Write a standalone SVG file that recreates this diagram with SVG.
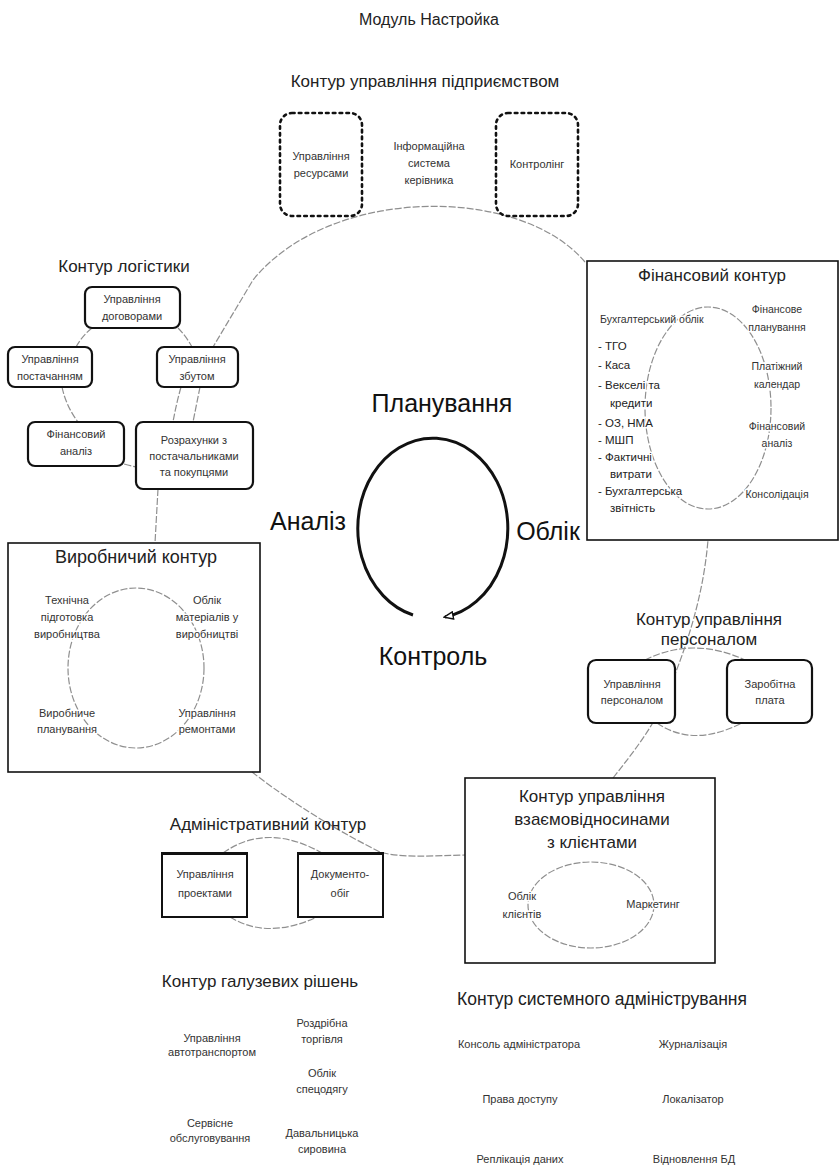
<svg xmlns="http://www.w3.org/2000/svg" width="840" height="1170" viewBox="0 0 840 1170">
  <defs>
    <style>
      text { font-family: "Liberation Sans", Arial, sans-serif; fill: #222; text-anchor: middle; }
      .title { font-size: 16px; }
      .hdr { font-size: 17px; }
      .big { font-size: 25px; fill: #111; }
      .sm { font-size: 11px; fill: #333; }
      .xs { font-size: 10.5px; fill: #333; }
      .lst { font-size: 11.5px; fill: #222; text-anchor: start; }
      .ko { paint-order: stroke; stroke: #fff; stroke-width: 3px; stroke-linejoin: round; }
      .ring { fill: none; stroke: #8f8f8f; stroke-width: 1.2; stroke-dasharray: 7 2; }
      .frame { fill: none; stroke: #111; stroke-width: 1.6; }
      .rbox { fill: #fff; stroke: #111; stroke-width: 2.2; }
      .sbox { fill: #fff; stroke: #111; stroke-width: 2; }
      .dots { fill: #fff; stroke: #111; stroke-width: 2.6; stroke-dasharray: 2.6 4.2; stroke-linecap: round; }
    </style>
    <marker id="openHead" viewBox="0 0 12 10" refX="10" refY="5" markerWidth="11" markerHeight="9" markerUnits="userSpaceOnUse" orient="auto">
      <path d="M1,1 L11,5 L1,9 Z" fill="#fff" stroke="#111" stroke-width="1.6"/>
    </marker>
  </defs>

  <rect width="840" height="1170" fill="#fff"/>

  <!-- connectors: the large ring linking the contours and the small rings inside them -->
  <g id="connectors">
    <path class="ring" d="M585 262 C520 185 330 185 253 280 L213 347"/>
    <path class="ring" d="M200 387 L193 422"/>
    <path class="ring" d="M158 489 L155 543"/>
    <path class="ring" d="M252 772 C275 790 320 822 380 852 C400 858 430 856 465 855"/>
    <path class="ring" d="M613 778 C635 750 655 725 668 692 C685 650 703 600 708 540"/>
    <!-- logistics ring -->
    <path class="ring" d="M92 328 Q82 336 76 347"/>
    <path class="ring" d="M178 328 Q186 336 192 347"/>
    <path class="ring" d="M62 387 Q66 406 78 422"/>
    <path class="ring" d="M181 387 Q176 405 173 422"/>
    <path class="ring" d="M124 464 Q131 466 136 467"/>
    <!-- finance ring -->
    <ellipse class="ring" cx="708" cy="408" rx="63" ry="101"/>
    <!-- production ring -->
    <ellipse class="ring" cx="136" cy="668" rx="68" ry="80"/>
    <!-- personnel ring -->
    <path class="ring" d="M645 660 Q693 636 745 660"/>
    <path class="ring" d="M657 723 Q693 748 742 723"/>
    <!-- administrative ring -->
    <path class="ring" d="M223 853 Q267 822 322 853"/>
    <path class="ring" d="M230 917 Q267 940 317 917"/>
    <!-- customer relations ring -->
    <ellipse class="ring" cx="591" cy="905" rx="63" ry="43"/>
  </g>

  <g id="module-title">
    <text class="title" x="429" y="25">Модуль Настройка</text>
  </g>

  <!-- enterprise management contour -->
  <g id="enterprise">
    <text class="hdr" x="425" y="87">Контур управління підприємством</text>
    <rect class="dots" x="280" y="113" width="82" height="103" rx="12"/>
    <text class="sm" x="321" y="160">Управління</text>
    <text class="sm" x="321" y="177">ресурсами</text>
    <text class="sm" x="429" y="150">Інформаційна</text>
    <text class="sm" x="429" y="167">система</text>
    <text class="sm" x="429" y="184">керівника</text>
    <rect class="dots" x="496" y="113" width="82" height="103" rx="12"/>
    <text class="sm" x="537" y="168">Контролінг</text>
  </g>

  <!-- logistics contour -->
  <g id="logistics">
    <text class="hdr" x="124" y="272">Контур логістики</text>
    <rect class="rbox" x="85" y="287" width="95" height="41" rx="7"/>
    <text class="sm" x="132" y="303">Управління</text>
    <text class="sm" x="132" y="320">договорами</text>
    <rect class="rbox" x="8" y="347" width="84" height="40" rx="7"/>
    <text class="sm" x="50" y="363">Управління</text>
    <text class="sm" x="50" y="380">постачанням</text>
    <rect class="rbox" x="157" y="347" width="81" height="40" rx="7"/>
    <text class="sm" x="197" y="363">Управління</text>
    <text class="sm" x="197" y="380">збутом</text>
    <rect class="rbox" x="28" y="422" width="96" height="44" rx="7"/>
    <text class="sm" x="76" y="438">Фінансовий</text>
    <text class="sm" x="76" y="455">аналіз</text>
    <rect class="rbox" x="136" y="422" width="117" height="67" rx="7"/>
    <text class="sm" x="194" y="444">Розрахунки з</text>
    <text class="sm" x="194" y="460">постачальниками</text>
    <text class="sm" x="194" y="476">та покупцями</text>
  </g>

  <!-- finance contour -->
  <g id="finance">
    <rect class="frame" x="587" y="261" width="251" height="279"/>
    <text class="hdr" x="712" y="281">Фінансовий контур</text>
    <text class="xs ko" x="600" y="323" style="text-anchor:start">Бухгалтерський облік</text>
    <text class="lst ko" x="598" y="350">- ТГО</text>
    <text class="lst ko" x="598" y="369">- Каса</text>
    <text class="lst ko" x="598" y="389">- Векселі та</text>
    <text class="lst ko" x="610" y="407">кредити</text>
    <text class="lst ko" x="598" y="427">- ОЗ, НМА</text>
    <text class="lst ko" x="598" y="444">- МШП</text>
    <text class="lst ko" x="598" y="461">- Фактичні</text>
    <text class="lst ko" x="610" y="478">витрати</text>
    <text class="lst ko" x="598" y="495">- Бухгалтерська</text>
    <text class="lst ko" x="610" y="512">звітність</text>
    <text class="xs ko" x="777" y="313">Фінансове</text>
    <text class="xs ko" x="777" y="331">планування</text>
    <text class="xs ko" x="777" y="370">Платіжний</text>
    <text class="xs ko" x="777" y="388">календар</text>
    <text class="xs ko" x="777" y="430">Фінансовий</text>
    <text class="xs ko" x="777" y="447">аналіз</text>
    <text class="xs ko" x="777" y="498">Консолідація</text>
  </g>

  <!-- central management cycle -->
  <g id="cycle">
    <text class="big" x="442" y="412">Планування</text>
    <path d="M413 615 A75 90 0 1 1 445 617" fill="none" stroke="#111" stroke-width="3" marker-end="url(#openHead)"/>
    <text class="big" x="308" y="530">Аналіз</text>
    <text class="big" x="548" y="540">Облік</text>
    <text class="big" x="433" y="665">Контроль</text>
  </g>

  <!-- production contour -->
  <g id="production">
    <rect class="frame" x="8" y="543" width="252" height="229"/>
    <text class="hdr" x="136" y="563" style="font-size:18px">Виробничий контур</text>
    <text class="sm ko" x="67" y="604">Технічна</text>
    <text class="sm ko" x="67" y="621">підготовка</text>
    <text class="sm ko" x="67" y="638">виробництва</text>
    <text class="sm ko" x="207" y="604">Облік</text>
    <text class="sm ko" x="207" y="621">матеріалів у</text>
    <text class="sm ko" x="207" y="638">виробництві</text>
    <text class="sm ko" x="67" y="717">Виробниче</text>
    <text class="sm ko" x="67" y="733">планування</text>
    <text class="sm ko" x="207" y="717">Управління</text>
    <text class="sm ko" x="207" y="733">ремонтами</text>
  </g>

  <!-- personnel management contour -->
  <g id="personnel">
    <text class="hdr" x="709" y="625">Контур управління</text>
    <text class="hdr" x="709" y="645">персоналом</text>
    <rect class="rbox" x="588" y="660" width="87" height="63" rx="8"/>
    <text class="sm" x="632" y="688">Управління</text>
    <text class="sm" x="632" y="704">персоналом</text>
    <rect class="rbox" x="727" y="660" width="85" height="63" rx="8"/>
    <text class="sm" x="770" y="688">Заробітна</text>
    <text class="sm" x="770" y="704">плата</text>
  </g>

  <!-- administrative contour -->
  <g id="administrative">
    <text class="hdr" x="268" y="830">Адміністративний контур</text>
    <rect class="sbox" x="162" y="853" width="85" height="64"/>
    <line x1="162" y1="853.5" x2="247" y2="853.5" stroke="#111" stroke-width="3"/>
    <text class="sm" x="205" y="878">Управління</text>
    <text class="sm" x="205" y="897">проектами</text>
    <rect class="sbox" x="298" y="853" width="85" height="64"/>
    <line x1="298" y1="853.5" x2="383" y2="853.5" stroke="#111" stroke-width="3"/>
    <text class="sm" x="340" y="878">Документо-</text>
    <text class="sm" x="340" y="897">обіг</text>
  </g>

  <!-- customer relations contour -->
  <g id="customers">
    <rect class="frame" x="465" y="778" width="250" height="185"/>
    <text class="hdr" x="592" y="802">Контур управління</text>
    <text class="hdr" x="592" y="825">взаємовідносинами</text>
    <text class="hdr" x="592" y="848">з клієнтами</text>
    <text class="sm ko" x="522" y="900">Облік</text>
    <text class="sm ko" x="522" y="918">клієнтів</text>
    <text class="sm ko" x="653" y="908">Маркетинг</text>
  </g>

  <!-- industry solutions contour -->
  <g id="industry">
    <text class="hdr" x="260" y="987">Контур галузевих рішень</text>
    <text class="sm" x="212" y="1042">Управління</text>
    <text class="sm" x="212" y="1056">автотранспортом</text>
    <text class="sm" x="322" y="1027">Роздрібна</text>
    <text class="sm" x="322" y="1043">торгівля</text>
    <text class="sm" x="322" y="1077">Облік</text>
    <text class="sm" x="322" y="1093">спецодягу</text>
    <text class="sm" x="210" y="1127">Сервісне</text>
    <text class="sm" x="210" y="1142">обслуговування</text>
    <text class="sm" x="322" y="1137">Давальницька</text>
    <text class="sm" x="322" y="1153">сировина</text>
  </g>

  <!-- system administration contour -->
  <g id="sysadmin">
    <text class="hdr" x="602" y="1005" style="font-size:17.5px">Контур системного адміністрування</text>
    <text class="sm" x="519" y="1048">Консоль адміністратора</text>
    <text class="sm" x="693" y="1048">Журналізація</text>
    <text class="sm" x="520" y="1103">Права доступу</text>
    <text class="sm" x="693" y="1103">Локалізатор</text>
    <text class="sm" x="520" y="1163">Реплікація даних</text>
    <text class="sm" x="694" y="1163">Відновлення БД</text>
  </g>
</svg>
